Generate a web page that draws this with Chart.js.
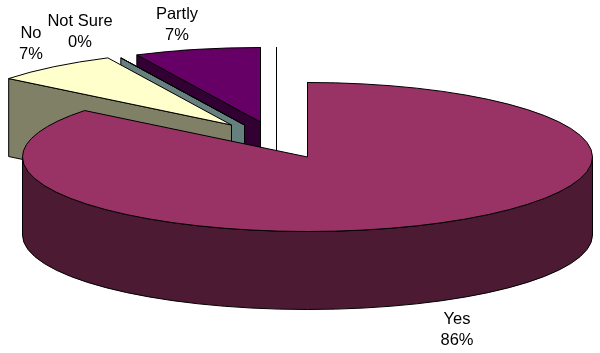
<!DOCTYPE html>
<html>
<head>
<meta charset="utf-8">
<style>
  html, body { margin: 0; padding: 0; background: #fff; }
  canvas { display: block; }
</style>
<script src="https://cdn.jsdelivr.net/npm/chart.js@4"></script>
</head>
<body>
<canvas id="chart" width="600" height="353"></canvas>
<script>
// responses per answer, the percentages in the labels come from these
const categories = ["Yes", "No", "Not Sure", "Partly", ""];
const counts = [12, 1, 0, 1, 0];

const topColors = ["#993366", "#FFFFCC", "#CCFFFF", "#660066", "#FFFFFF"];
const wallColors = ["#4D1A33", "#808066", "#668080", "#330033", "#FFFFFF"];

// 3d look of the old spreadsheet pie
const rx = 285, ry = 74.5, depth = 78;
const explodeX = [0, -76, -63, -47, -31];
const explodeY = [0, -32, -32, -35, -35];
const labelX = [457, 31, 80, 177];
const labelY = [319, 33, 21, 14];

function edge(ctx, x, y, a) {
  return [x + rx * Math.cos(a), y + ry * Math.sin(a)];
}

function paint(ctx, fill) {
  ctx.fillStyle = fill;
  ctx.fill();
  ctx.stroke();
}

function cutWall(ctx, x, y, a, fill) {
  const p = edge(ctx, x, y, a);
  ctx.beginPath();
  ctx.moveTo(x, y);
  ctx.lineTo(p[0], p[1]);
  ctx.lineTo(p[0], p[1] + depth);
  ctx.lineTo(x, y + depth);
  ctx.closePath();
  paint(ctx, fill);
}

const pie3d = {
  id: "pie3d",
  beforeDatasetsDraw(chart) {
    const ctx = chart.ctx;
    const arcs = chart.getDatasetMeta(0).data;
    ctx.save();
    ctx.lineJoin = "round";
    // back slices first so the big one ends up on top
    for (let i = arcs.length - 1; i >= 0; i--) {
      const el = arcs[i];
      const x = el.x + explodeX[i], y = el.y + explodeY[i];
      const a0 = el.startAngle, a1 = el.endAngle;
      ctx.strokeStyle = el.options.borderColor;
      ctx.lineWidth = el.options.borderWidth;

      if (Math.cos(a1) >= -1e-6) cutWall(ctx, x, y, a1, wallColors[i]);
      if (Math.cos(a0) <= 1e-6) cutWall(ctx, x, y, a0, wallColors[i]);

      // rim, only the front half can be seen
      const from = Math.max(a0, 0), to = Math.min(a1, Math.PI);
      if (from < to) {
        ctx.beginPath();
        ctx.ellipse(x, y, rx, ry, 0, from, to);
        ctx.ellipse(x, y + depth, rx, ry, 0, to, from, true);
        ctx.closePath();
        paint(ctx, wallColors[i]);
      }

      ctx.beginPath();
      ctx.moveTo(x, y);
      ctx.ellipse(x, y, rx, ry, 0, a0, a1);
      ctx.closePath();
      paint(ctx, el.options.backgroundColor);
    }
    ctx.restore();
    return false;
  },
  afterDraw(chart) {
    const ctx = chart.ctx;
    const total = counts.reduce((a, b) => a + b, 0);
    ctx.save();
    ctx.font = "16.5px 'Liberation Sans', Arial, sans-serif";
    ctx.fillStyle = "#000";
    ctx.textAlign = "center";
    ctx.textBaseline = "middle";
    categories.forEach((name, i) => {
      if (!name) return;
      ctx.fillText(name, labelX[i], labelY[i]);
      ctx.fillText(Math.round(counts[i] / total * 100) + "%", labelX[i], labelY[i] + 21);
    });
    ctx.restore();
  }
};

new Chart(document.getElementById("chart").getContext("2d"), {
  type: "pie",
  data: {
    labels: categories,
    datasets: [{
      data: counts,
      backgroundColor: topColors,
      borderColor: "#000",
      borderWidth: 1
    }]
  },
  options: {
    responsive: false,
    animation: false,
    layout: { padding: { left: 15, bottom: 39 } },
    plugins: {
      legend: { display: false },
      tooltip: { enabled: false }
    }
  },
  plugins: [pie3d]
});
</script>
</body>
</html>
